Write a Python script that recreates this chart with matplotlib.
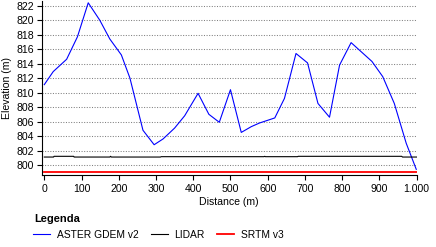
import matplotlib
matplotlib.use("Agg")
import matplotlib.pyplot as plt
from matplotlib.ticker import FuncFormatter

plt.rcParams['font.family'] = ['Liberation Sans', 'DejaVu Sans']

# profile values
aster_dist = [0, 24, 60, 89, 118, 149, 176, 207, 230, 265, 295, 319, 350, 377, 413,
              442, 470, 500, 529, 556, 578, 619, 645, 676, 707, 735, 766, 793, 824,
              880, 909, 940, 972, 999]
aster_elev = [811.1, 812.9, 814.6, 817.7, 822.4, 820.0, 817.4, 815.2, 812.0, 804.8,
              802.8, 803.6, 805.1, 806.8, 809.9, 807.0, 805.9, 810.4, 804.5, 805.3,
              805.8, 806.5, 809.2, 815.4, 814.1, 808.5, 806.6, 813.8, 816.9, 814.3,
              812.2, 808.5, 803.0, 799.4]

lidar_dist = [0, 25, 26, 79, 80, 176, 178, 180, 312, 314, 500, 590, 592, 594, 680,
              682, 960, 962, 1000]
lidar_elev = [801.1, 801.1, 801.2, 801.2, 801.1, 801.1, 801.2, 801.1, 801.1, 801.15,
              801.15, 801.15, 801.2, 801.15, 801.15, 801.2, 801.2, 801.1, 801.1]

srtm_dist = [0, 1000]
srtm_elev = [799.0, 799.0]

y_ticks = list(range(800, 823, 2))
x_ticks = list(range(0, 1001, 100))

fs = 7.6

fig = plt.figure(figsize=(4.36, 2.47), dpi=100)
ax = fig.add_axes([0.0956, 0.2915, 0.860, 0.7045])

ax.plot(aster_dist, aster_elev, color='#0000ff', lw=0.8, label='ASTER GDEM v2')
ax.plot(lidar_dist, lidar_elev, color='black', lw=0.8, label='LIDAR')
ax.plot(srtm_dist, srtm_elev, color='#ff0000', lw=1.3, label='SRTM v3')

ax.set_xlim(-7, 1000)
ax.set_ylim(798.62, 822.65)
ax.set_xticks(x_ticks)
ax.set_yticks(y_ticks)
ax.xaxis.set_major_formatter(FuncFormatter(lambda v, p: f"{int(v):,}".replace(',', '.')))
ax.yaxis.grid(True, linestyle=(0, (1, 1.5)), color='#808080', lw=0.75)
ax.set_axisbelow(True)
for s in ['top', 'right']:
    ax.spines[s].set_visible(False)
ax.spines['bottom'].set_linewidth(0.8)
ax.spines['left'].set_linewidth(0.8)
ax.tick_params(axis='x', length=3.3, width=0.8, labelsize=fs, pad=3)
ax.tick_params(axis='y', length=3.8, width=0.8, labelsize=fs, pad=2)
ax.set_xlabel('Distance (m)', fontsize=fs, labelpad=2)
ax.set_ylabel('Elevation (m)', fontsize=fs, labelpad=3)

fig.text(34 / 436, 1 - 219 / 247, 'Legenda', fontsize=8, fontweight='bold',
         ha='left', va='center')
fig.legend(loc='center left', bbox_to_anchor=(33 / 436, 1 - 235 / 247), ncol=3,
           frameon=False, fontsize=7.4, handlelength=1.65, handletextpad=0.65,
           columnspacing=1.2, borderpad=0, borderaxespad=0)

fig.savefig('out.png', dpi=100)
